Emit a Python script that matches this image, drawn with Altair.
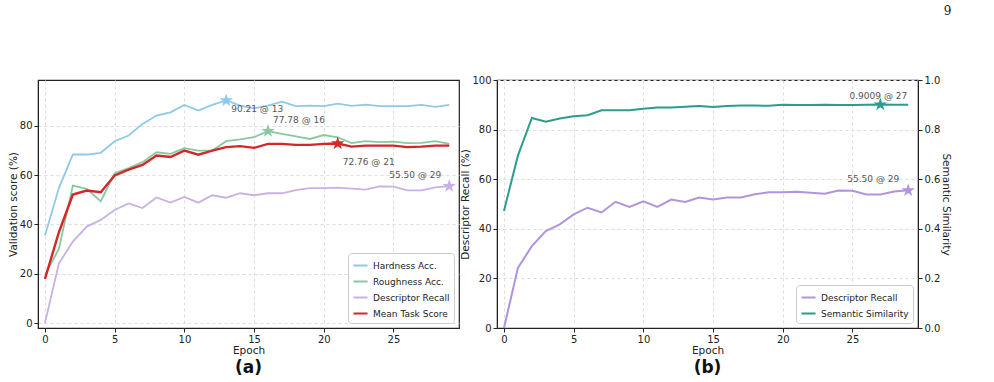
import altair as alt
import pandas as pd

# ---------------- data ----------------
epochs = list(range(30))
hardness = [35.5, 54.7, 68.3, 68.3, 69.0, 73.7, 76.0, 80.7, 84.1, 85.4, 88.4, 86.1, 88.4, 90.21, 88.1,
            87.0, 88.1, 89.7, 87.9, 88.1, 87.9, 88.9, 88.0, 88.5, 87.9, 87.9, 87.9, 88.4, 87.6, 88.4]
roughness = [19.5, 30.1, 55.7, 54.4, 49.3, 60.7, 62.8, 65.2, 69.2, 68.6, 70.9, 69.9, 69.9, 73.7, 74.4,
             75.3, 77.78, 76.7, 75.7, 74.6, 76.2, 75.3, 72.9, 73.7, 73.3, 73.5, 72.9, 73.0, 73.7, 72.6]
recall = [0.0, 24.2, 33.0, 39.1, 41.8, 45.8, 48.5, 46.6, 50.9, 48.8, 51.1, 48.8, 51.8, 50.8, 52.6,
          51.8, 52.6, 52.6, 53.9, 54.7, 54.7, 54.9, 54.5, 54.1, 55.4, 55.3, 53.8, 53.8, 55.0, 55.50]
mean_task = [17.9, 36.8, 52.1, 53.7, 53.0, 59.8, 62.2, 64.1, 67.9, 67.3, 69.9, 68.2, 69.9, 71.3, 71.7,
             71.0, 72.6, 72.6, 72.2, 72.2, 72.6, 72.76, 71.5, 71.9, 71.9, 71.9, 71.3, 71.5, 71.9, 71.9]
similarity = [0.472, 0.695, 0.847, 0.832, 0.845, 0.854, 0.858, 0.878, 0.878, 0.878, 0.884, 0.889, 0.889,
              0.892, 0.895, 0.891, 0.895, 0.897, 0.897, 0.896, 0.900, 0.899, 0.899, 0.900, 0.899, 0.899,
              0.900, 0.9009, 0.900, 0.900]

left_names = ["Hardness Acc.", "Roughness Acc.", "Descriptor Recall", "Mean Task Score"]
left_series = [hardness, roughness, recall, mean_task]
right_names = ["Descriptor Recall", "Semantic Similarity"]

# ---------------- styles ----------------
left_colors = ["#8ecae6", "#88c9a0", "#c8b1e4", "#d62728"]
left_widths = [1.8, 1.8, 1.8, 2.4]
right_colors = ["#b194dc", "#2a9d8f"]
FONT = "DejaVu Sans"
W, H = 421, 248
STAR = ("M0,-1L0.2245,-0.309L0.951,-0.309L0.3633,0.118L0.588,0.809L0,0.382L-0.588,0.809"
        "L-0.3633,0.118L-0.951,-0.309L-0.2245,-0.309Z")
left_ann = [("left", 5, 9), ("left", 5, -11), ("right", -8, -11), ("left", 5, 18)]
right_ann = [("right", -9, -11), ("center", -2, -9)]

df = pd.DataFrame({"epoch": epochs, "h": hardness, "r": roughness, "d": recall, "m": mean_task,
                   "s": similarity})
cols = ["h", "r", "d", "m"]


def best(vals, fmt):
    i = max(range(len(vals)), key=lambda k: vals[k])
    return i, vals[i], f"{vals[i]:{fmt}} @ {i}"


xenc = alt.X("epoch:Q", scale=alt.Scale(domain=[-0.5, 29.7], nice=False, zero=False),
             axis=alt.Axis(values=[0, 5, 10, 15, 20, 25], title="Epoch"))

legend_kw = dict(title=None, orient="bottom-right", offset=5, fillColor="white",
                 strokeColor="#cccccc", cornerRadius=3, padding=4, symbolType="stroke",
                 symbolSize=200, symbolStrokeWidth=2, labelFontSize=9, labelFont=FONT,
                 labelColor="#222")


# ---------------- left panel ----------------
def ly(field, axis=True):
    return alt.Y(f"{field}:Q", scale=alt.Scale(domain=[-2, 98.5], nice=False, zero=False),
                 axis=alt.Axis(values=[0, 20, 40, 60, 80], title="Validation score (%)") if axis else None)


left_layers = []
for c, name, w in zip(cols, left_names, left_widths):
    left_layers.append(
        alt.Chart(df).transform_calculate(series=f"'{name}'").mark_line(strokeWidth=w).encode(
            x=xenc, y=ly(c),
            color=alt.Color("series:N", scale=alt.Scale(domain=left_names, range=left_colors),
                            legend=alt.Legend(**legend_kw)))
    )
for name, vals, col, (al, dx, dy) in zip(left_names, left_series, left_colors, left_ann):
    i, v, lab = best(vals, ".2f")
    d = pd.DataFrame({"epoch": [i], "v": [v], "label": [lab]})
    left_layers.append(alt.Chart(d).mark_point(shape=STAR, filled=True, size=200, opacity=1,
                                               color=col).encode(x=xenc, y=ly("v")))
    left_layers.append(alt.Chart(d).mark_text(align=al, baseline="middle", dx=dx, dy=dy,
                                              fontSize=9, font=FONT, color="#555")
                       .encode(x=xenc, y=ly("v"), text="label:N"))

left = alt.layer(*left_layers).properties(
    width=W, height=H,
    title=alt.TitleParams("(a)", orient="bottom", fontSize=17, fontWeight="bold", font=FONT,
                          color="#111", offset=4))


# ---------------- right panel ----------------
def ry(field, axis=False):
    return alt.Y(f"{field}:Q", scale=alt.Scale(domain=[0, 100], nice=False),
                 axis=alt.Axis(values=[0, 20, 40, 60, 80, 100], title="Descriptor Recall (%)") if axis else None)


rcolor = alt.Color("series2:N", scale=alt.Scale(domain=right_names, range=right_colors),
                   legend=alt.Legend(**legend_kw))

rec_line = alt.Chart(df).transform_calculate(series2=f"'{right_names[0]}'").mark_line(
    strokeWidth=2).encode(x=xenc, y=ry("d", True), color=rcolor)
sim_line = alt.Chart(df).transform_calculate(series2=f"'{right_names[1]}'").mark_line(
    strokeWidth=2).encode(
    x=xenc,
    y=alt.Y("s:Q", scale=alt.Scale(domain=[0, 1], nice=False),
            axis=alt.Axis(values=[0, 0.2, 0.4, 0.6, 0.8, 1.0], format=".1f", orient="right",
                          grid=False, title="Semantic Similarity")),
    color=rcolor)

right_layers = [rec_line, sim_line]
for vals, col, fmt, k, (al, dx, dy) in zip([recall, similarity], right_colors, [".2f", ".4f"],
                                           [1, 100], right_ann):
    i, v, lab = best(vals, fmt)
    d = pd.DataFrame({"epoch": [i], "v": [v * k], "label": [lab]})
    right_layers.append(alt.Chart(d).mark_point(shape=STAR, filled=True, size=200, opacity=1,
                                                color=col).encode(x=xenc, y=ry("v")))
    right_layers.append(alt.Chart(d).mark_text(align=al, baseline="middle", dx=dx, dy=dy,
                                               fontSize=9, font=FONT, color="#555")
                        .encode(x=xenc, y=ry("v"), text="label:N"))

right = alt.layer(*right_layers).resolve_scale(y="independent").properties(
    width=W, height=H,
    title=alt.TitleParams("(b)", orient="bottom", fontSize=17, fontWeight="bold", font=FONT,
                          color="#111", offset=4))

chart = alt.hconcat(left, right, spacing=0).resolve_scale(color="independent").properties(
    title=alt.TitleParams("9", anchor="end", font="DejaVu Serif", fontSize=12, fontWeight="normal",
                          color="#222", offset=56)
).configure(
    padding={"left": 7, "top": 5, "right": 5, "bottom": 5}
).configure_axis(
    labelFont=FONT, labelFontSize=10, labelColor="#222", titleFont=FONT, titleFontSize=10.5,
    titleFontWeight="normal", titleColor="#222", tickSize=4, tickColor="#222", domainColor="#222",
    labelPadding=2, titlePadding=1, gridColor="#dddddd", gridDash=[3, 3],
).configure_view(stroke="#222", strokeWidth=1.2)

chart.save("out.html", embed_options={"renderer": "svg", "actions": False})
